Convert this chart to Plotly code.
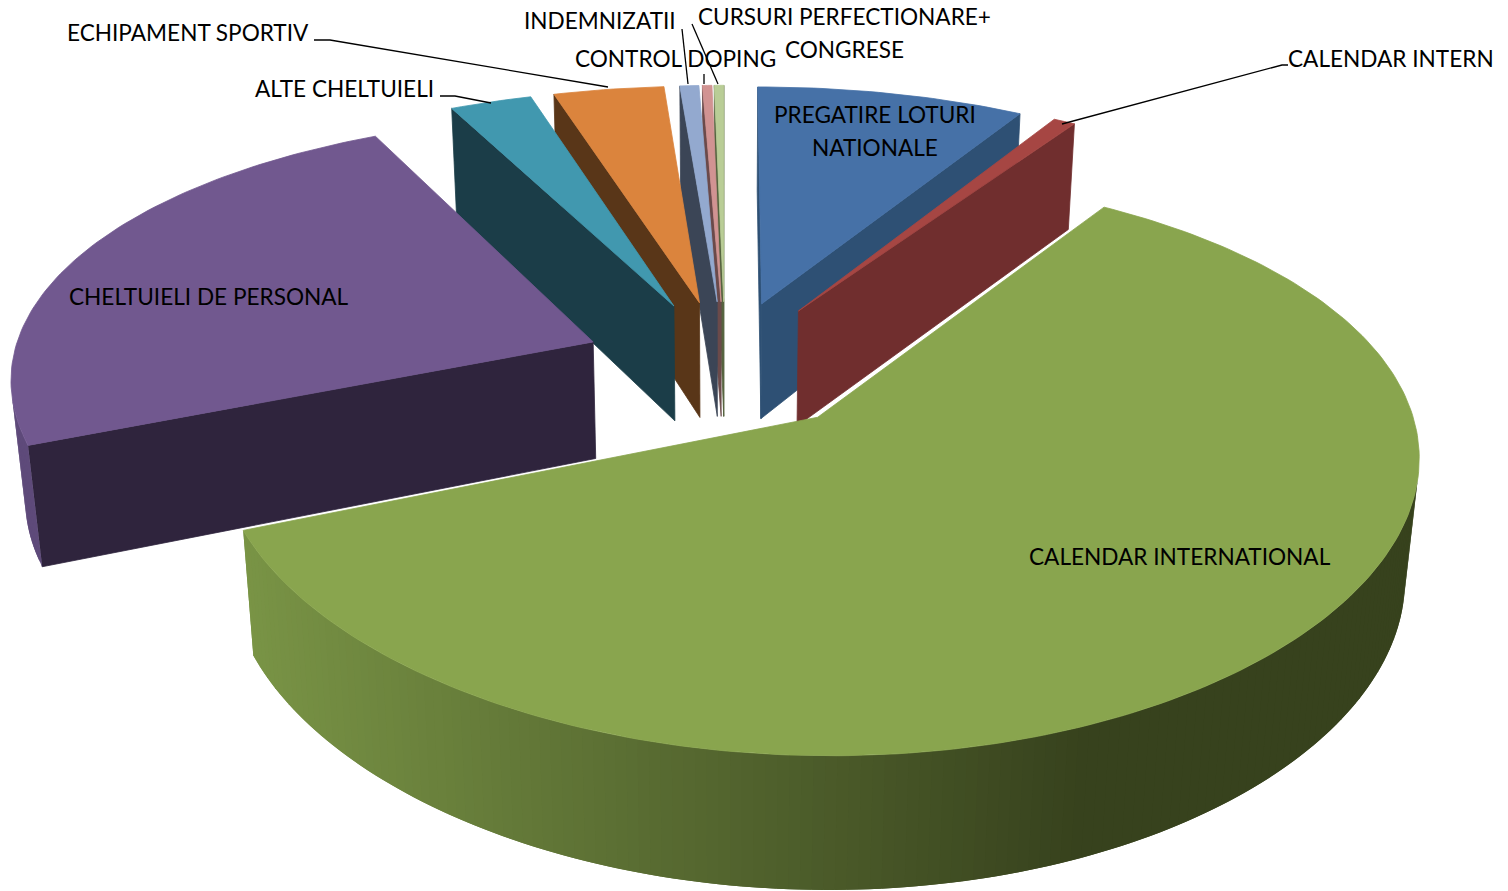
import numpy as np
import plotly.graph_objects as go

# ---- data (percent of total) ----
categories = ["PREGATIRE LOTURI NATIONALE", "CALENDAR INTERN", "CALENDAR INTERNATIONAL",
              "CHELTUIELI DE PERSONAL", "ALTE CHELTUIELI", "ECHIPAMENT SPORTIV",
              "INDEMNIZATII", "CONTROL DOPING", "CURSURI PERFECTIONARE+ CONGRESE"]
values = [8.5, 0.7, 59.7, 23.8, 2.6, 3.5, 0.6, 0.3, 0.3]
label_text = ["PREGATIRE LOTURI<br>NATIONALE", "CALENDAR INTERN", "CALENDAR INTERNATIONAL",
              "CHELTUIELI DE PERSONAL", "ALTE CHELTUIELI", "ECHIPAMENT SPORTIV",
              "INDEMNIZATII", "CONTROL DOPING", "CURSURI PERFECTIONARE+<br>CONGRESE"]

# ---- styles ----
top_colors = ["#4671A7", "#A64643", "#89A54E", "#71588F", "#4198AF", "#DB843D", "#93A9CF", "#D19392", "#B9CD96"]
wall_colors = ["#2E5074", "#702E2E", "#37421D", "#2F243D", "#1B3D48", "#593618", "#3B4556", "#6B4A4A", "#55633F"]
rim_colors = ["#2E5074", "#702E2E", "#37421D", "#5E4A7A", "#1B3D48", "#593618", "#3B4556", "#6B4A4A", "#55633F"]
draw_order = [8, 7, 6, 5, 4, 0, 1, 3, 2]

label_x = [875, 1391, 1180, 209, 344, 188, 600, 675, 844]
label_y = [131, 58, 556, 296, 88, 32, 20, 58, 33]
leader_x = [None, [1062, 1282, 1288], None, None, [440, 455, 491], [314, 330, 608], [682, 688], [704, 704], [692, 718]]
leader_y = [None, [124, 65, 65], None, None, [96, 96, 103], [40, 40, 87], [29, 84], [74, 84], [24, 84]]

# ---- projection of the exploded, tilted pie onto the page ----
CX, CY = 725, 365
A, B, C = 582, 268, 120
KX, KY, KZ = 0.12, 0.155, 0.02
EXPLODE = 0.245
RADIUS = 1.0
LINE_STEP = 33


def project(px, py, z):
    return (CX + A * px / (1 + KX * py + KZ * z),
            CY + (-B * py + C * z) / (1 + KY * py + KZ * z))


def slice_geometry(a0, a1):
    mid = (a0 + a1) / 2
    ox, oy = EXPLODE * np.sin(mid), EXPLODE * np.cos(mid)
    n = max(3, int((a1 - a0) / np.radians(1.0)))
    t = np.linspace(a0, a1, n)
    return ox, oy, ox + RADIUS * np.sin(t), oy + RADIUS * np.cos(t)


def area(xs, ys):
    xs, ys = np.asarray(xs), np.asarray(ys)
    return 0.5 * np.sum(xs * np.roll(ys, -1) - np.roll(xs, -1) * ys)


def mix(c1, c2, f):
    a = [int(c1[i:i + 2], 16) for i in (1, 3, 5)]
    b = [int(c2[i:i + 2], 16) for i in (1, 3, 5)]
    return "rgb(%d,%d,%d)" % tuple(round(p + (q - p) * f) for p, q in zip(a, b))


fig = go.Figure()


def poly(xs, ys, color, name, edge=0.8):
    xs = list(xs) + [xs[0]]
    ys = list(ys) + [ys[0]]
    fig.add_trace(go.Scatter(x=xs, y=ys, mode="lines", fill="toself", fillcolor=color,
                             line=dict(color=color, width=edge), hoverinfo="text", text=name,
                             showlegend=False))


fractions = np.array(values) / sum(values)
ends = np.cumsum(fractions) * 2 * np.pi
starts = ends - fractions * 2 * np.pi

for i in draw_order:
    name = categories[i]
    ox, oy, rx, ry = slice_geometry(starts[i], ends[i])
    # radial walls: start edge then end edge, kept when they face the viewer
    for (ex, ey), sign in (((rx[0], ry[0]), 1), ((rx[-1], ry[-1]), -1)):
        p = [project(ox, oy, 0), project(ex, ey, 0), project(ex, ey, 1), project(ox, oy, 1)]
        xs, ys = zip(*p)
        if sign * area(xs, ys) < 0:
            poly(xs, ys, wall_colors[i], name)
    # rim wall: drawn from the far end so that each band overlaps the next and no seam shows
    for j in range(len(rx) - 2, -1, -1):
        p = [project(rx[j], ry[j], 0), project(rx[j + 1], ry[j + 1], 0),
             project(rx[j + 1], ry[j + 1], 1), project(rx[j], ry[j], 1)]
        xs, ys = zip(*p)
        if area(xs, ys) < 0:
            if i == 2:
                f = min(1.0, max(0.0, (np.mean(xs) - 240) / 850))
                color = mix("#7A9546", "#37421D", f)
            else:
                color = rim_colors[i]
            k = min(j + 2, len(rx) - 1)
            q = [project(rx[j], ry[j], 0), project(rx[k], ry[k], 0),
                 project(rx[k], ry[k], 1), project(rx[j], ry[j], 1)]
            xq, yq = zip(*q)
            poly(xq, yq, color, name, edge=0)
    # top face
    p = [project(ox, oy, 0)] + [project(a, b, 0) for a, b in zip(rx, ry)]
    xs, ys = zip(*p)
    poly(xs, ys, top_colors[i], name)

for lx, ly in zip(leader_x, leader_y):
    if lx:
        fig.add_trace(go.Scatter(x=lx, y=ly, mode="lines", line=dict(color="#000000", width=1.3),
                                 hoverinfo="skip", showlegend=False))

for txt, x, y in zip(label_text, label_x, label_y):
    lines = txt.split("<br>")
    for k, line in enumerate(lines):
        fig.add_annotation(x=x, y=y + (k - (len(lines) - 1) / 2) * LINE_STEP, text=line, showarrow=False,
                           xanchor="center", yanchor="middle",
                           font=dict(family="Lato", size=22.6, color="#000000"))

fig.update_layout(width=1508, height=891, autosize=False, margin=dict(l=0, r=0, t=0, b=0),
                  paper_bgcolor="white", plot_bgcolor="white",
                  xaxis=dict(range=[0, 1508], visible=False, fixedrange=True),
                  yaxis=dict(range=[891, 0], visible=False, fixedrange=True))
fig.write_html("out.html", config={"displayModeBar": False},
               post_script="document.body.style.margin='0';document.body.style.overflow='hidden';")
